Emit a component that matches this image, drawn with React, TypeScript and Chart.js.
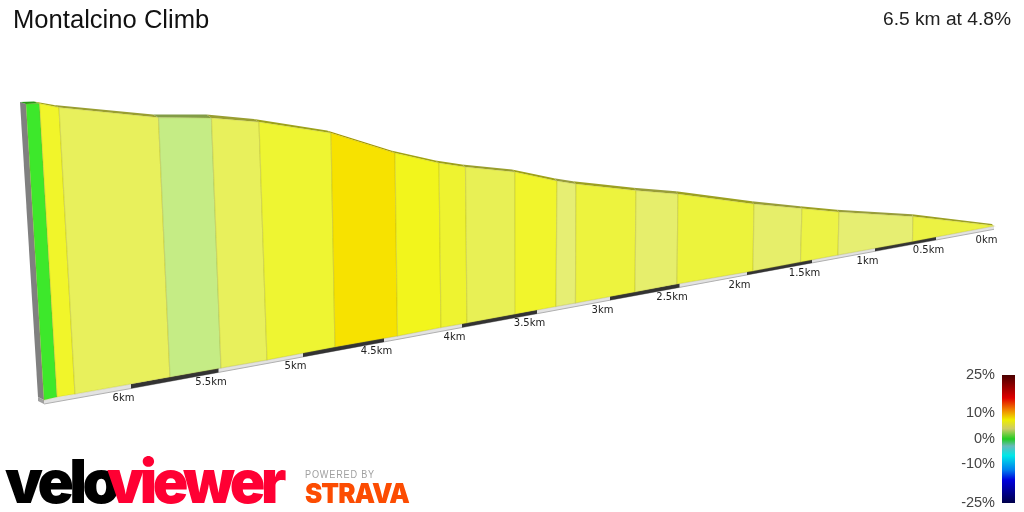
import React, { useEffect, useRef } from 'react';
import { Chart, registerables } from 'chart.js';

Chart.register(...registerables);

// all numbers are in profile units (x 0-1024, y 0-512 downwards)
const ridgeX = [26, 39.5, 59, 158.5, 211.5, 259, 331, 395, 439, 465.5, 515, 557, 576, 636, 678, 754, 802, 839, 913, 993];
const ridgeY = [104, 103.5, 107.5, 117.5, 118, 122, 133, 153, 163, 167, 172, 181, 184, 190.5, 194, 204, 208.5, 212, 216.5, 225.5];
const backX = [20, 34, 54, 153, 206.5, 254, 327, 391, 435.5, 462, 512, 554, 573, 633.5, 676, 752, 800, 837, 912, 992];
const backY = [102, 101.5, 105, 114.5, 114.5, 119, 130.5, 150.5, 160.5, 164.5, 169.5, 178.3, 181.3, 187.8, 191.3, 201.3, 206.2, 209.8, 214.3, 224];
const footX = [44, 57, 75, 170, 221, 267, 335, 397.5, 441, 467, 515.5, 556, 575.5, 635, 677, 753, 800.5, 838, 912.5, 994];
const footY = [400, 397, 394, 377, 368, 360, 347, 336, 327.5, 323, 314, 306.5, 303, 292, 284, 271, 262, 255, 241.5, 226];
const sliceColors = [
  '#3de82b', '#f1f52a', '#e8f05c', '#c5ec85', '#e8f05c', '#eef532', '#f7e200', '#f2f51c', '#eef330', '#e8f055',
  '#f1f52c', '#e6ee73', '#edf33e', '#e6ee6c', '#ecf33c', '#e6ee6a', '#edf345', '#e6ee72', '#ecf243',
];

const kmLabels = ['0km', '0.5km', '1km', '1.5km', '2km', '2.5km', '3km', '3.5km', '4km', '4.5km', '5km', '5.5km', '6km'];
const kmX = [994, 936, 875, 812, 747, 679.5, 610, 537, 462, 384, 303, 218.5, 131];
const kmY = [226, 236.6, 247.8, 259.3, 271.2, 283.6, 296.3, 309.7, 323.4, 337.7, 352.6, 368, 384];
const kmYLow = [229.3, 240, 251.3, 262.9, 274.9, 287.4, 300.2, 313.7, 327.5, 341.9, 356.9, 372.4, 388.5];

const gradeTicks = ['25%', '10%', '0%', '-10%', '-25%'];
const gradeTickY = [379, 417, 443, 468, 507];
const gradeStops = [0, 0.18, 0.27, 0.35, 0.42, 0.5, 0.555, 0.63, 0.74, 0.82, 1];
const gradeColors = ['#4a0000', '#e00000', '#f08000', '#eeee00', '#cccc66', '#22cc22', '#66bbbb', '#00e8e8', '#0080ee', '#0000dd', '#00004a'];

const shade = (hex: string) => {
  const n = parseInt(hex.slice(1), 16);
  const f = 0.66;
  return `rgb(${((n >> 16) & 255) * f},${((n >> 8) & 255) * f},${(n & 255) * f * 0.8})`;
};

const poly = (pts: number[][], color: any, border = 'transparent', borderWidth = 0) => ({
  data: pts.map(([x, y]) => ({ x, y })).concat([{ x: pts[0][0], y: pts[0][1] }]),
  backgroundColor: color,
  borderColor: border,
  borderWidth,
  fill: 'shape',
  showLine: true,
  pointRadius: 0,
  tension: 0,
  clip: false,
});

const buildDatasets = () => {
  const sets: any[] = [];
  // side wall and corner
  sets.push(poly([[backX[0], backY[0]], [ridgeX[0], ridgeY[0]], [footX[0], footY[0]], [38, 397]], '#808080'));
  sets.push(poly([[38, 397], [44, 400], [44, 404], [38, 401]], '#a0a0a0'));
  // road edge
  const edgeX = [...kmX, footX[0]];
  const edgeY = [...kmY, footY[0]];
  const edgeLow = [...kmYLow, 404];
  sets.push(poly(
    [...edgeX.map((x, i) => [x, edgeY[i]]), ...edgeX.map((x, i) => [x, edgeLow[i]]).reverse()],
    '#e2e2e2',
  ));
  sets.push({
    data: edgeX.map((x, i) => ({ x, y: edgeLow[i] })),
    borderColor: '#b0b0b0',
    borderWidth: 1,
    showLine: true,
    pointRadius: 0,
    clip: false,
  });
  // dark stripe every other half km
  for (let i = 1; i < kmX.length - 1; i += 2) {
    sets.push(poly(
      [[kmX[i], kmY[i]], [kmX[i + 1], kmY[i + 1]], [kmX[i + 1], kmYLow[i + 1]], [kmX[i], kmYLow[i]]],
      '#333333',
    ));
  }
  sliceColors.forEach((c, i) => {
    sets.push(poly(
      [[backX[i], backY[i]], [backX[i + 1], backY[i + 1]], [ridgeX[i + 1], ridgeY[i + 1]], [ridgeX[i], ridgeY[i]]],
      shade(c),
    ));
    sets.push(poly(
      [[ridgeX[i], ridgeY[i]], [ridgeX[i + 1], ridgeY[i + 1]], [footX[i + 1], footY[i + 1]], [footX[i], footY[i]]],
      c,
      'rgba(160,160,40,0.25)',
      1.2,
    ));
  });
  // grade legend bar
  sets.push(poly([[1002, 375], [1015, 375], [1015, 503], [1002, 503]], (ctx: any) => {
    const g = ctx.chart.ctx.createLinearGradient(0, 375, 0, 503);
    gradeStops.forEach((s, i) => g.addColorStop(s, gradeColors[i]));
    return g;
  }));
  return sets.reverse();
};

const textPlugin = {
  id: 'profileText',
  afterDraw(chart: any) {
    const { ctx, scales } = chart;
    const px = (v: number) => scales.x.getPixelForValue(v);
    const py = (v: number) => scales.y.getPixelForValue(v);
    ctx.save();
    ctx.textBaseline = 'alphabetic';

    ctx.fillStyle = '#111';
    ctx.font = '25.6px "Liberation Sans"';
    ctx.textAlign = 'left';
    ctx.fillText('Montalcino Climb', px(13), py(28));
    ctx.font = '19.2px "Liberation Sans"';
    ctx.textAlign = 'right';
    ctx.fillStyle = '#222';
    ctx.fillText('6.5 km at 4.8%', px(1011), py(25));

    ctx.font = '10px "DejaVu Sans"';
    ctx.textAlign = 'center';
    kmLabels.forEach((t, i) => ctx.fillText(t, px(kmX[i] - 7.5), py(kmY[i] + 16.5)));

    ctx.font = '14.5px "Liberation Sans"';
    ctx.textAlign = 'right';
    ctx.fillStyle = '#444';
    gradeTicks.forEach((t, i) => ctx.fillText(t, px(995), py(gradeTickY[i])));

    // wordmarks
    ctx.textAlign = 'left';
    ctx.font = '900 60px Inter';
    ctx.letterSpacing = '-4.5px';
    ctx.fillStyle = '#000';
    ctx.fillText('velo', px(5), py(503), 111);
    ctx.fillStyle = '#ff0033';
    ctx.fillText('viewer', px(107), py(503), 175);

    ctx.font = '11px "Liberation Sans"';
    ctx.letterSpacing = '1px';
    ctx.fillStyle = '#a0a0a0';
    ctx.fillText('POWERED BY', px(305), py(478), 70);
    ctx.font = '900 27px Inter';
    ctx.letterSpacing = '-1px';
    ctx.fillStyle = '#fc4c02';
    ctx.fillText('STRAVA', px(305), py(503), 104);
    ctx.letterSpacing = '0px';
    ctx.restore();
  },
};

export default function App() {
  const canvasRef = useRef<HTMLCanvasElement>(null);

  useEffect(() => {
    if (!canvasRef.current) return;
    const chart = new Chart(canvasRef.current, {
      type: 'scatter',
      data: { datasets: buildDatasets() },
      options: {
        animation: false,
        responsive: false,
        maintainAspectRatio: false,
        layout: { padding: 0 },
        events: [],
        scales: {
          x: { type: 'linear', min: 0, max: 1024, display: false },
          y: { type: 'linear', min: 0, max: 512, reverse: true, display: false },
        },
        plugins: { legend: { display: false }, tooltip: { enabled: false } },
      },
      plugins: [textPlugin],
    } as any);
    return () => chart.destroy();
  }, []);

  return (
    <div style={{ position: 'absolute', left: 0, top: 0, width: 1024, height: 512, background: '#fff' }}>
      <canvas ref={canvasRef} width={1024} height={512} style={{ display: 'block' }}></canvas>
    </div>
  );
}
